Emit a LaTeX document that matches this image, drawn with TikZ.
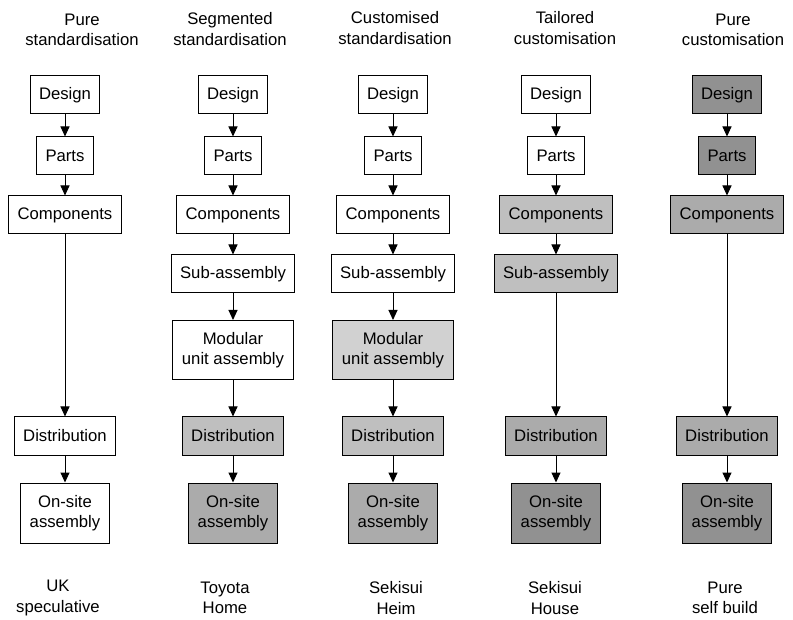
\documentclass[tikz,border=0pt]{standalone}
\usepackage{fontspec}
\setmainfont{Liberation Sans}
\usetikzlibrary{arrows.meta}
\definecolor{shadeA}{gray}{0.82}
\definecolor{shadeB}{gray}{0.75}
\definecolor{shadeC}{gray}{0.67}
\definecolor{shadeD}{gray}{0.57}
\tikzset{
	box/.style={draw, minimum height=38pt, inner xsep=9pt, align=center},
	tall/.style={box, minimum height=60pt},
	head/.style={align=center},
}
\begin{document}
\begin{tikzpicture}[x=1pt, y=-1pt, line width=1pt, >={Triangle[length=10pt,width=9pt]}, font=\fontsize{16.7}{20.5}\selectfont]
	\useasboundingbox (0,0) rectangle (793,620);
	% column headings
	\node[head] (tit1) at (82,30) {Pure\\standardisation};
	\node[head] (tit2) at (230,29) {Segmented\\standardisation};
	\node[head] (tit3) at (395,28) {Customised\\standardisation};
	\node[head] (tit4) at (565,28) {Tailored\\customisation};
	\node[head] (tit5) at (733,30) {Pure\\customisation};
	% pure standardisation
	\node[box] (des1) at (65,95) {Design};
	\node[box] (par1) at (65,156) {Parts};
	\node[box] (com1) at (65,215) {Components};
	\node[box] (dis1) at (65,436) {Distribution};
	\node[tall] (ons1) at (65,513) {On-site\\assembly};
	% segmented standardisation
	\node[box] (des2) at (233,95) {Design};
	\node[box] (par2) at (233,156) {Parts};
	\node[box] (com2) at (233,215) {Components};
	\node[box] (sub2) at (233,274) {Sub-assembly};
	\node[tall, minimum height=59pt] (mod2) at (233,350) {Modular\\unit assembly};
	\node[box, fill=shadeB] (dis2) at (233,436) {Distribution};
	\node[tall, fill=shadeC] (ons2) at (233,513) {On-site\\assembly};
	% customised standardisation
	\node[box] (des3) at (393,95) {Design};
	\node[box] (par3) at (393,156) {Parts};
	\node[box] (com3) at (393,215) {Components};
	\node[box] (sub3) at (393,274) {Sub-assembly};
	\node[tall, minimum height=59pt, fill=shadeA] (mod3) at (393,350) {Modular\\unit assembly};
	\node[box, fill=shadeB] (dis3) at (393,436) {Distribution};
	\node[tall, fill=shadeC] (ons3) at (393,513) {On-site\\assembly};
	% tailored customisation
	\node[box] (des4) at (556,95) {Design};
	\node[box] (par4) at (556,156) {Parts};
	\node[box, fill=shadeB] (com4) at (556,215) {Components};
	\node[box, fill=shadeB] (sub4) at (556,274) {Sub-assembly};
	\node[box, fill=shadeC] (dis4) at (556,436) {Distribution};
	\node[tall, fill=shadeD] (ons4) at (556,513) {On-site\\assembly};
	% pure customisation
	\node[box, fill=shadeD] (des5) at (727,95) {Design};
	\node[box, fill=shadeD] (par5) at (727,156) {Parts};
	\node[box, fill=shadeC] (com5) at (727,215) {Components};
	\node[box, fill=shadeC] (dis5) at (727,436) {Distribution};
	\node[tall, fill=shadeD] (ons5) at (727,513) {On-site\\assembly};
	% examples
	\node[head] (lab1) at (58,598) {UK\\speculative};
	\node[head] (lab2) at (225,598) {Toyota\\Home};
	\node[head] (lab3) at (396,598) {Sekisui\\Heim};
	\node[head] (lab4) at (555,598) {Sekisui\\House};
	\node[head] (lab5) at (725,598) {Pure\\self build};
	% flows
	\draw[->] (des1) -- (par1);
	\draw[->] (par1) -- (com1);
	\draw[->] (com1) -- (dis1);
	\draw[->] (dis1) -- (ons1);
	\draw[->] (des2) -- (par2);
	\draw[->] (par2) -- (com2);
	\draw[->] (com2) -- (sub2);
	\draw[->] (sub2) -- (mod2);
	\draw[->] (mod2) -- (dis2);
	\draw[->] (dis2) -- (ons2);
	\draw[->] (des3) -- (par3);
	\draw[->] (par3) -- (com3);
	\draw[->] (com3) -- (sub3);
	\draw[->] (sub3) -- (mod3);
	\draw[->] (mod3) -- (dis3);
	\draw[->] (dis3) -- (ons3);
	\draw[->] (des4) -- (par4);
	\draw[->] (par4) -- (com4);
	\draw[->] (com4) -- (sub4);
	\draw[->] (sub4) -- (dis4);
	\draw[->] (dis4) -- (ons4);
	\draw[->] (des5) -- (par5);
	\draw[->] (par5) -- (com5);
	\draw[->] (com5) -- (dis5);
	\draw[->] (dis5) -- (ons5);
\end{tikzpicture}
\end{document}
